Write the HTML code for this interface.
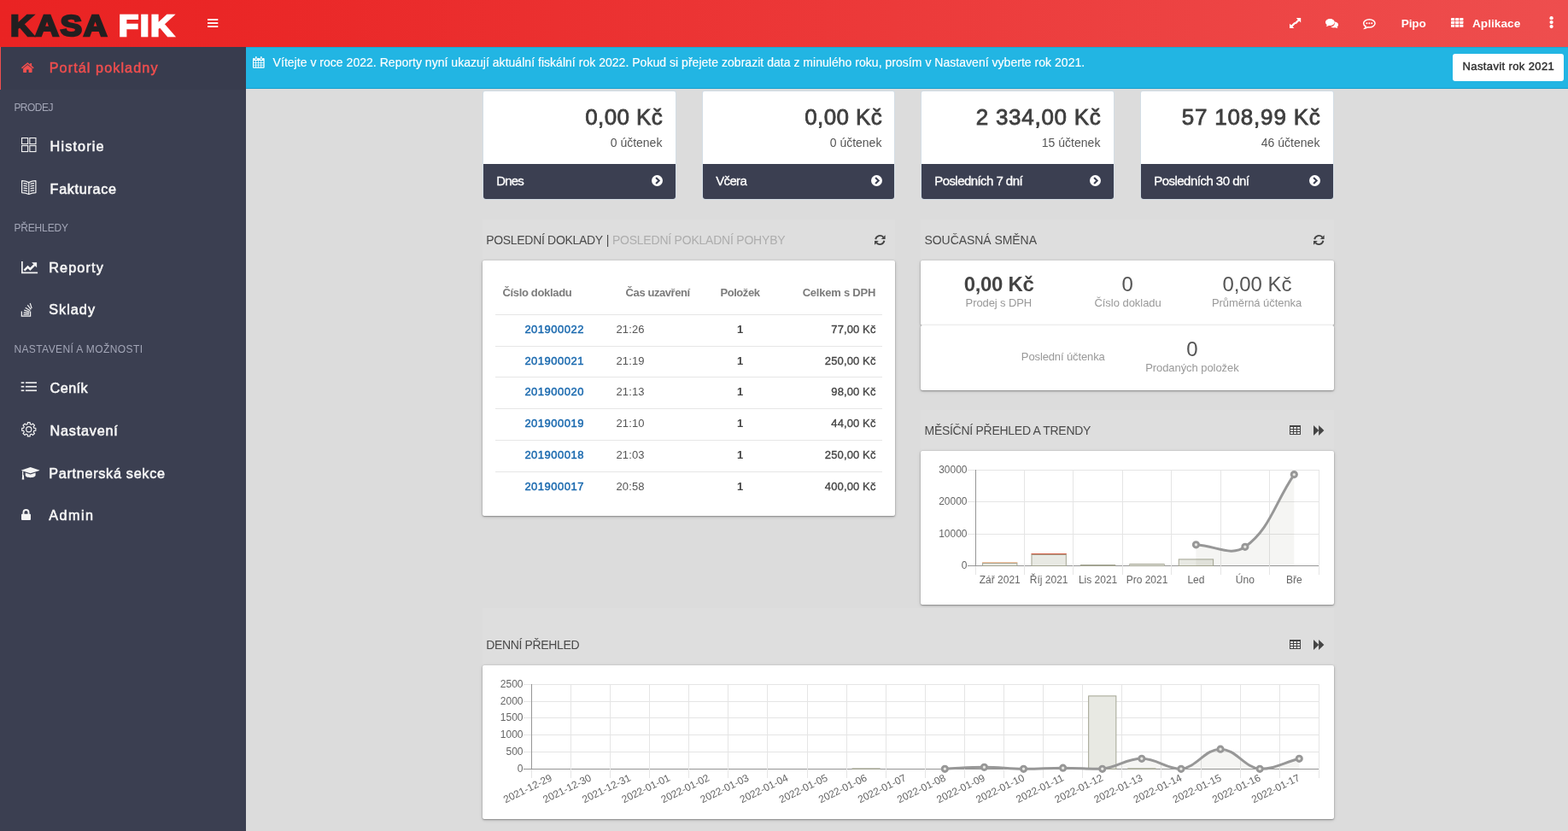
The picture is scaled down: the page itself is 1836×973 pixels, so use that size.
<!DOCTYPE html>
<html lang="cs">
<head>
<meta charset="utf-8">
<title>KASA FIK – Portál pokladny</title>
<style>
html,body{margin:0;padding:0}
body{width:1836px;height:973px;overflow:hidden;background:#dcdcdc;font-family:"Liberation Sans",sans-serif;position:relative;color:#444}
.t{position:absolute;white-space:pre;line-height:1;margin:0;padding:0;font-weight:400}
a.t{text-decoration:none}
.abs,svg{position:absolute}
svg{overflow:visible}
header{position:absolute;left:0;top:0;width:1836px;height:55px;background:linear-gradient(90deg,#ea2323 0%,#ea2626 14%,#ee4e4e 100%)}
aside{position:absolute;left:0;top:55px;width:288px;height:918px;background:#3b3f51}
aside .active{position:absolute;left:0;top:0;width:288px;height:49.6px;background:#383c4e;box-sizing:border-box;border-left:1px solid #ef4e4e}
aside ul{list-style:none;margin:0;padding:0}
.notice{position:absolute;left:288px;top:55px;width:1548px;height:49px;box-sizing:border-box;background:#22b5e3;border-bottom:1px solid #169fce;box-shadow:inset 0 1px 0 rgba(0,40,70,.10)}
.notice button{position:absolute;left:1413px;top:8px;width:130px;height:32px;border:0;border-radius:3px;background:#fff;padding:0;margin:0;font-family:inherit}
main{position:absolute;left:0;top:0;width:1836px;height:973px}
.stat{position:absolute;top:107px;width:225px;height:126px;border-radius:2px 2px 3px 3px;background:#fff;box-shadow:0 0 0 1px #d3dde5}
.stat .foot{position:absolute;left:0;top:85px;width:225px;height:41px;background:#3b3f51;border-radius:0 0 3px 3px}
.panel{position:absolute;background:#dedede}
.card{position:absolute;background:#fff;border-radius:2px;box-shadow:0 1px 2px rgba(0,0,0,.32),0 1px 5px rgba(0,0,0,.10),0 0 2px rgba(0,0,0,.12)}
.hr{position:absolute;height:1px;background:#e6e6e6}
</style>
</head>
<body>
<header>
<h1 class="t" style="left:0;top:0;font-size:0"><span class="t" style="left:11.90px;top:13.01px;font-size:34.6px;font-weight:700;color:#231f20;letter-spacing:1.4px;-webkit-text-stroke:2.4px #231f20;transform:scaleX(1.11);transform-origin:0 0">KASA</span><span class="t" style="left:138.60px;top:13.01px;font-size:34.6px;font-weight:700;color:#ffffff;letter-spacing:1.6px;-webkit-text-stroke:2.4px #ffffff;transform:scaleX(1.095);transform-origin:0 0">FIK</span></h1>
<svg class="ic" style="left:243.00px;top:22.00px" width="12.3" height="10.1" viewBox="0 0 12.3 10.1" aria-hidden="true"><rect x="0" y="0.1" width="12.3" height="1.8" fill="#fff"/><rect x="0" y="4.15" width="12.3" height="1.8" fill="#fff"/><rect x="0" y="8.2" width="12.3" height="1.8" fill="#fff"/></svg><svg class="ic" style="left:1510.20px;top:21.30px" width="13.2" height="12.1" viewBox="0 0 13.2 12.1" aria-hidden="true"><polygon fill="#fff" points="7.80,0.00 13.20,0.00 13.20,5.40 11.30,3.50 7.60,7.20 6.00,5.60 9.70,1.90"/><polygon fill="#fff" points="5.40,12.10 0.00,12.10 0.00,6.70 1.90,8.60 5.60,4.90 7.20,6.50 3.50,10.20"/></svg><svg class="ic" style="left:1552.20px;top:22.00px" width="15.1" height="11" viewBox="0 0 15.1 11" aria-hidden="true"><path fill="#fff" d="M10.2 3.2 C13 3.4 15.1 5 15.1 6.9 C15.1 8 14.4 8.9 13.4 9.6 C13.6 10.2 14.1 10.8 14.6 11 C13.3 11 12.2 10.7 11.4 10.3 C10.9 10.4 10.4 10.45 9.9 10.45 C8.4 10.45 7.1 10.05 6.1 9.4 C8.9 9 11 7.2 11 4.9 C11 4.3 10.7 3.7 10.2 3.2Z"/><path fill="#fff" d="M5.4 0 C8.4 0 10.8 1.8 10.8 4.05 C10.8 6.3 8.4 8.1 5.4 8.1 C4.9 8.1 4.4 8.05 3.9 7.95 C3 8.6 1.8 9 0.5 9.1 C1.1 8.6 1.6 7.9 1.8 7.2 C0.7 6.5 0 5.3 0 4.05 C0 1.8 2.4 0 5.4 0Z"/></svg><svg class="ic" style="left:1596.00px;top:22.00px" width="14.7" height="11.9" viewBox="0 0 14.7 11.9" aria-hidden="true"><path fill="none" stroke="#fff" stroke-width="1.5" d="M7.35 0.65 C11.1 0.65 14.05 2.75 14.05 5.3 C14.05 7.85 11.1 9.95 7.35 9.95 C6.7 9.95 6.1 9.9 5.5 9.75 C4.6 10.5 3.4 11 2.1 11.2 C2.7 10.6 3.1 9.8 3.2 9 C1.6 8.1 0.65 6.8 0.65 5.3 C0.65 2.75 3.6 0.65 7.35 0.65Z"/><circle cx="4.4" cy="5.3" r="1.05" fill="#fff"/><circle cx="7.35" cy="5.3" r="1.05" fill="#fff"/><circle cx="10.3" cy="5.3" r="1.05" fill="#fff"/></svg><span class="t" style="left:1640.80px;top:20.90px;font-size:13.6px;color:#fff;font-weight:700;letter-spacing:-0.151px;">Pipo</span><svg class="ic" style="left:1699.40px;top:21.00px" width="14.5" height="10.9" viewBox="0 0 14.5 10.9" aria-hidden="true"><rect x="0.00" y="0.00" width="4.2" height="3.1" rx="0.4" fill="#fff"/><rect x="5.10" y="0.00" width="4.2" height="3.1" rx="0.4" fill="#fff"/><rect x="10.20" y="0.00" width="4.2" height="3.1" rx="0.4" fill="#fff"/><rect x="0.00" y="3.85" width="4.2" height="3.1" rx="0.4" fill="#fff"/><rect x="5.10" y="3.85" width="4.2" height="3.1" rx="0.4" fill="#fff"/><rect x="10.20" y="3.85" width="4.2" height="3.1" rx="0.4" fill="#fff"/><rect x="0.00" y="7.70" width="4.2" height="3.1" rx="0.4" fill="#fff"/><rect x="5.10" y="7.70" width="4.2" height="3.1" rx="0.4" fill="#fff"/><rect x="10.20" y="7.70" width="4.2" height="3.1" rx="0.4" fill="#fff"/></svg><span class="t" style="left:1723.90px;top:20.90px;font-size:13.6px;color:#fff;font-weight:700;letter-spacing:0.068px;">Aplikace</span><svg class="ic" style="left:1814.30px;top:19.00px" width="5.2" height="14.2" viewBox="0 0 5.2 14.2" aria-hidden="true"><circle cx="2.6" cy="2.15" r="2.15" fill="#fff"/><circle cx="2.6" cy="7.1" r="2.15" fill="#fff"/><circle cx="2.6" cy="12.05" r="2.15" fill="#fff"/></svg></header>
<aside>
<nav>
<div class="active"></div>
<svg class="ic" style="left:25.30px;top:18.40px" width="14.7" height="12" viewBox="0 0 14.7 12" aria-hidden="true"><path fill="#ef4e4e" d="M7.35 2.9 L2.1 7.2 V11.3 Q2.1 11.9 2.7 11.9 H6.1 V8.4 H8.6 V11.9 H12 Q12.6 11.9 12.6 11.3 V7.2 Z"/><path fill="#ef4e4e" d="M7.35 0.2 Q7.6 0.2 7.9 0.45 L10.3 2.45 V0.95 H12.1 V3.95 L14.5 5.95 Q14.8 6.2 14.55 6.5 L14 7.15 Q13.8 7.4 13.5 7.2 L7.35 2.05 L1.2 7.2 Q0.9 7.4 0.7 7.15 L0.15 6.5 Q-0.1 6.2 0.2 5.95 L6.8 0.45 Q7.1 0.2 7.35 0.2Z"/></svg><a class="t" style="left:57.70px;top:15.90px;font-size:16.2px;color:#ef4e4e;letter-spacing:1.086px;-webkit-text-stroke:0.5px #ef4e4e;">Portál pokladny</a><span class="t" style="left:16.40px;top:65.00px;font-size:12px;color:#a3a6b7;letter-spacing:-0.537px;">PRODEJ</span>
<svg class="ic" style="left:24.80px;top:106.10px" width="17.5" height="17.1" viewBox="0 0 17.5 17.1" aria-hidden="true"><rect x="0.55" y="0.55" width="7.10" height="7.00" fill="none" stroke="#f4f4f4" stroke-width="1.1"/><rect x="0.55" y="9.55" width="7.10" height="7.00" fill="none" stroke="#f4f4f4" stroke-width="1.1"/><rect x="9.85" y="0.55" width="7.10" height="7.00" fill="none" stroke="#f4f4f4" stroke-width="1.1"/><rect x="9.85" y="9.55" width="7.10" height="7.00" fill="none" stroke="#f4f4f4" stroke-width="1.1"/></svg><a class="t" style="left:58.60px;top:107.90px;font-size:16.2px;color:#f6f6f6;letter-spacing:1.146px;-webkit-text-stroke:0.55px #f6f6f6;">Historie</a>
<svg class="ic" style="left:24.80px;top:156.00px" width="17.5" height="17.2" viewBox="0 0 17.5 17.2" aria-hidden="true"><path fill="none" stroke="#f4f4f4" stroke-width="1.2" stroke-linejoin="round" d="M0.6 0.7 Q5 0.9 8.75 2.6 Q12.5 0.9 16.9 0.7 V14.6 Q12.5 14.8 8.75 16.5 Q5 14.8 0.6 14.6 Z"/><path fill="none" stroke="#f4f4f4" stroke-width="1.2" stroke-linejoin="round" d="M8.75 2.6 V16.5"/><path fill="none" stroke="#f4f4f4" stroke-width="1.2" stroke-linejoin="round" stroke-width="1.05" d="M2.5 3.60 Q5 3.80 7 4.50"/><path fill="none" stroke="#f4f4f4" stroke-width="1.2" stroke-linejoin="round" stroke-width="1.05" d="M15 3.60 Q12.5 3.80 10.5 4.50"/><path fill="none" stroke="#f4f4f4" stroke-width="1.2" stroke-linejoin="round" stroke-width="1.05" d="M2.5 6.35 Q5 6.55 7 7.25"/><path fill="none" stroke="#f4f4f4" stroke-width="1.2" stroke-linejoin="round" stroke-width="1.05" d="M15 6.35 Q12.5 6.55 10.5 7.25"/><path fill="none" stroke="#f4f4f4" stroke-width="1.2" stroke-linejoin="round" stroke-width="1.05" d="M2.5 9.10 Q5 9.30 7 10.00"/><path fill="none" stroke="#f4f4f4" stroke-width="1.2" stroke-linejoin="round" stroke-width="1.05" d="M15 9.10 Q12.5 9.30 10.5 10.00"/><path fill="none" stroke="#f4f4f4" stroke-width="1.2" stroke-linejoin="round" stroke-width="1.05" d="M2.5 11.85 Q5 12.05 7 12.75"/><path fill="none" stroke="#f4f4f4" stroke-width="1.2" stroke-linejoin="round" stroke-width="1.05" d="M15 11.85 Q12.5 12.05 10.5 12.75"/></svg><a class="t" style="left:58.60px;top:157.90px;font-size:16.2px;color:#f6f6f6;letter-spacing:0.677px;-webkit-text-stroke:0.55px #f6f6f6;">Fakturace</a>
<span class="t" style="left:16.40px;top:206.00px;font-size:12px;color:#a3a6b7;letter-spacing:-0.155px;">PŘEHLEDY</span>
<svg class="ic" style="left:24.80px;top:251.30px" width="19.1" height="14.3" viewBox="0 0 19.1 14.3" aria-hidden="true"><path fill="#f4f4f4" d="M0 0 H1.7 V12.6 H19.1 V14.3 H0 Z"/><path fill="none" stroke="#f4f4f4" stroke-width="2.5" stroke-linejoin="miter" d="M3.4 10.6 L7.6 6.6 L10.3 9.2 L15.4 4.1"/><path fill="#f4f4f4" d="M12.1 1.3 H18.1 V7.3 Z"/></svg><a class="t" style="left:57.20px;top:249.90px;font-size:16.2px;color:#f6f6f6;letter-spacing:1.152px;-webkit-text-stroke:0.55px #f6f6f6;">Reporty</a>
<svg class="ic" style="left:24.80px;top:299.00px" width="13.1" height="16.8" viewBox="0 0 13.1 16.8" aria-hidden="true"><path fill="none" stroke="#f4f4f4" stroke-width="1.25" d="M0.35 10.6 V16.15 H10.6 V10.6"/><rect x="-3.30" y="-0.6" width="6.6" height="1.2" fill="#f4f4f4" transform="translate(5.8 14.2) rotate(0)"/><rect x="-3.30" y="-0.6" width="6.6" height="1.2" fill="#f4f4f4" transform="translate(5.9 12.2) rotate(6)"/><rect x="-3.30" y="-0.6" width="6.6" height="1.2" fill="#f4f4f4" transform="translate(6.4 10.1) rotate(18)"/><rect x="-3.30" y="-0.6" width="6.6" height="1.2" fill="#f4f4f4" transform="translate(7.5 8.0) rotate(33)"/><rect x="-3.30" y="-0.6" width="6.6" height="1.2" fill="#f4f4f4" transform="translate(9.3 5.8) rotate(52)"/><rect x="-3.10" y="-0.6" width="6.2" height="1.2" fill="#f4f4f4" transform="translate(11.2 4.0) rotate(72)"/></svg><a class="t" style="left:57.20px;top:298.90px;font-size:16.2px;color:#f6f6f6;letter-spacing:1.041px;-webkit-text-stroke:0.55px #f6f6f6;">Sklady</a>
<span class="t" style="left:16.40px;top:348.00px;font-size:12px;color:#a3a6b7;letter-spacing:0.404px;">NASTAVENÍ A MOŽNOSTI</span>
<svg class="ic" style="left:24.80px;top:391.90px" width="17.5" height="11.8" viewBox="0 0 17.5 11.8" aria-hidden="true"><rect x="-0.3" y="0.3" width="3.6" height="1.6" fill="#f4f4f4"/><rect x="4.9" y="0.3" width="13.1" height="1.6" fill="#f4f4f4"/><rect x="-0.3" y="4.9" width="3.6" height="1.6" fill="#f4f4f4"/><rect x="4.9" y="4.9" width="13.1" height="1.6" fill="#f4f4f4"/><rect x="-0.3" y="9.5" width="3.6" height="1.6" fill="#f4f4f4"/><rect x="4.9" y="9.5" width="13.1" height="1.6" fill="#f4f4f4"/></svg><a class="t" style="left:58.60px;top:390.90px;font-size:16.2px;color:#f6f6f6;letter-spacing:0.426px;-webkit-text-stroke:0.55px #f6f6f6;">Ceník</a>
<svg class="ic" style="left:24.80px;top:438.80px" width="17.5" height="17.5" viewBox="0 0 17.5 17.5" aria-hidden="true"><path fill="none" stroke="#f4f4f4" stroke-width="1.15" stroke-linejoin="round" d="M7.19 2.65 L7.36 0.67 L10.14 0.67 L10.31 2.65 L11.96 3.33 L13.48 2.05 L15.45 4.02 L14.17 5.54 L14.85 7.19 L16.83 7.36 L16.83 10.14 L14.85 10.31 L14.17 11.96 L15.45 13.48 L13.48 15.45 L11.96 14.17 L10.31 14.85 L10.14 16.83 L7.36 16.83 L7.19 14.85 L5.54 14.17 L4.02 15.45 L2.05 13.48 L3.33 11.96 L2.65 10.31 L0.67 10.14 L0.67 7.36 L2.65 7.19 L3.33 5.54 L2.05 4.02 L4.02 2.05 L5.54 3.33Z"/><circle cx="8.75" cy="8.75" r="3.1" fill="none" stroke="#f4f4f4" stroke-width="1.15"/></svg><a class="t" style="left:58.60px;top:440.90px;font-size:16.2px;color:#f6f6f6;letter-spacing:0.789px;-webkit-text-stroke:0.55px #f6f6f6;">Nastavení</a>
<svg class="ic" style="left:24.80px;top:491.90px" width="21.3" height="15" viewBox="0 0 21.3 15" aria-hidden="true"><path fill="#f4f4f4" d="M10.65 0.1 L21.1 3.5 Q21.4 3.7 21.1 3.9 L10.65 7.3 L0.2 3.9 Q-0.1 3.7 0.2 3.5 Z"/><path fill="#f4f4f4" d="M4.7 6.4 L10.65 8.4 L16.6 6.4 V9.6 C16.6 11.3 13.8 12.2 10.65 12.2 C7.5 12.2 4.7 11.3 4.7 9.6 Z"/><path fill="#f4f4f4" d="M1.1 4.6 L2.3 5 V9 Q3 9.4 2.9 10 L3.3 14.6 H0.7 L1.1 10 Q0.5 9.4 1.1 9 Z"/></svg><a class="t" style="left:57.20px;top:490.90px;font-size:16.2px;color:#f6f6f6;letter-spacing:0.716px;-webkit-text-stroke:0.55px #f6f6f6;">Partnerská sekce</a>
<svg class="ic" style="left:24.80px;top:541.10px" width="11" height="13.1" viewBox="0 0 11 13.1" aria-hidden="true"><rect x="0" y="5.7" width="11" height="7.4" rx="1" fill="#f4f4f4"/><path fill="none" stroke="#f4f4f4" stroke-width="1.9" d="M2.5 6.2 V4.0 A3 3 0 0 1 8.5 4.0 V6.2"/></svg><a class="t" style="left:57.20px;top:539.90px;font-size:16.2px;color:#f6f6f6;letter-spacing:1.477px;-webkit-text-stroke:0.55px #f6f6f6;">Admin</a>
</nav>
</aside>
<div class="notice">
<svg class="ic" style="left:7.90px;top:11.40px" width="13.7" height="13.8" viewBox="0 0 13.7 13.8" aria-hidden="true"><path fill="#fff" d="M1 1.9 H12.7 Q13.7 1.9 13.7 2.9 V12.8 Q13.7 13.8 12.7 13.8 H1 Q0 13.8 0 12.8 V2.9 Q0 1.9 1 1.9Z"/><rect x="1.00" y="5.00" width="2.25" height="2.0" fill="#22b5e3"/><rect x="4.05" y="5.00" width="2.25" height="2.0" fill="#22b5e3"/><rect x="7.10" y="5.00" width="2.25" height="2.0" fill="#22b5e3"/><rect x="10.15" y="5.00" width="2.25" height="2.0" fill="#22b5e3"/><rect x="1.00" y="7.75" width="2.25" height="2.0" fill="#22b5e3"/><rect x="4.05" y="7.75" width="2.25" height="2.0" fill="#22b5e3"/><rect x="7.10" y="7.75" width="2.25" height="2.0" fill="#22b5e3"/><rect x="10.15" y="7.75" width="2.25" height="2.0" fill="#22b5e3"/><rect x="1.00" y="10.50" width="2.25" height="2.0" fill="#22b5e3"/><rect x="4.05" y="10.50" width="2.25" height="2.0" fill="#22b5e3"/><rect x="7.10" y="10.50" width="2.25" height="2.0" fill="#22b5e3"/><rect x="10.15" y="10.50" width="2.25" height="2.0" fill="#22b5e3"/><rect x="2.55" y="-0.5" width="2.6" height="4.6" rx="1.2" fill="#22b5e3"/><rect x="3.10" y="0" width="1.5" height="3.5" rx="0.75" fill="#fff"/><rect x="8.55" y="-0.5" width="2.6" height="4.6" rx="1.2" fill="#22b5e3"/><rect x="9.10" y="0" width="1.5" height="3.5" rx="0.75" fill="#fff"/></svg><p class="t" style="left:31.60px;top:11.30px;font-size:14px;color:#fff;letter-spacing:0.028px;-webkit-text-stroke:0.15px #fff;">Vítejte v roce 2022. Reporty nyní ukazují aktuální fiskální rok 2022. Pokud si přejete zobrazit data z minulého roku, prosím v Nastavení vyberte rok 2021.</p><button type="button"><span class="t" style="left:11.60px;top:8.00px;font-size:13px;color:#2c2c2c;letter-spacing:0.377px;-webkit-text-stroke:0.4px #2c2c2c;">Nastavit rok 2021</span></button>
</div>
<main>
<section class="stat" style="left:566px"><h2 class="t" style="left:119.20px;top:16.50px;font-size:26px;color:#3f3f3f;letter-spacing:0.405px;-webkit-text-stroke:0.8px #3f3f3f;">0,00 Kč</h2><span class="t" style="left:148.80px;top:53.00px;font-size:14px;color:#555;letter-spacing:-0.015px;">0 účtenek</span><div class="foot"><span class="t" style="left:15.20px;top:12.00px;font-size:15px;color:#fff;letter-spacing:-0.810px;-webkit-text-stroke:0.3px #fff;">Dnes</span><svg class="ic" style="left:197.30px;top:13.20px" width="13" height="13" viewBox="0 0 13 13" aria-hidden="true"><circle cx="6.5" cy="6.5" r="6.5" fill="#fff"/><path fill="none" stroke="#3b3f51" stroke-width="2.1" stroke-linejoin="miter" d="M5.1 2.9 L8.7 6.5 L5.1 10.1"/></svg></div></section>
<section class="stat" style="left:823px;width:224px"><h2 class="t" style="left:119.20px;top:16.50px;font-size:26px;color:#3f3f3f;letter-spacing:0.405px;-webkit-text-stroke:0.8px #3f3f3f;">0,00 Kč</h2><span class="t" style="left:148.80px;top:53.00px;font-size:14px;color:#555;letter-spacing:-0.015px;">0 účtenek</span><div class="foot" style="width:224px"><span class="t" style="left:15.20px;top:12.00px;font-size:15px;color:#fff;letter-spacing:-0.647px;-webkit-text-stroke:0.3px #fff;">Včera</span><svg class="ic" style="left:197.30px;top:13.20px" width="13" height="13" viewBox="0 0 13 13" aria-hidden="true"><circle cx="6.5" cy="6.5" r="6.5" fill="#fff"/><path fill="none" stroke="#3b3f51" stroke-width="2.1" stroke-linejoin="miter" d="M5.1 2.9 L8.7 6.5 L5.1 10.1"/></svg></div></section>
<section class="stat" style="left:1079px"><h2 class="t" style="left:63.80px;top:16.50px;font-size:26px;color:#3f3f3f;letter-spacing:0.722px;-webkit-text-stroke:0.8px #3f3f3f;">2 334,00 Kč</h2><span class="t" style="left:140.80px;top:53.00px;font-size:14px;color:#555;letter-spacing:0.011px;">15 účtenek</span><div class="foot"><span class="t" style="left:15.20px;top:12.00px;font-size:15px;color:#fff;letter-spacing:-0.557px;-webkit-text-stroke:0.3px #fff;">Posledních 7 dní</span><svg class="ic" style="left:197.30px;top:13.20px" width="13" height="13" viewBox="0 0 13 13" aria-hidden="true"><circle cx="6.5" cy="6.5" r="6.5" fill="#fff"/><path fill="none" stroke="#3b3f51" stroke-width="2.1" stroke-linejoin="miter" d="M5.1 2.9 L8.7 6.5 L5.1 10.1"/></svg></div></section>
<section class="stat" style="left:1336px"><h2 class="t" style="left:47.80px;top:16.50px;font-size:26px;color:#3f3f3f;letter-spacing:0.797px;-webkit-text-stroke:0.8px #3f3f3f;">57 108,99 Kč</h2><span class="t" style="left:140.80px;top:53.00px;font-size:14px;color:#555;letter-spacing:0.011px;">46 účtenek</span><div class="foot"><span class="t" style="left:15.20px;top:12.00px;font-size:15px;color:#fff;letter-spacing:-0.518px;-webkit-text-stroke:0.3px #fff;">Posledních 30 dní</span><svg class="ic" style="left:197.30px;top:13.20px" width="13" height="13" viewBox="0 0 13 13" aria-hidden="true"><circle cx="6.5" cy="6.5" r="6.5" fill="#fff"/><path fill="none" stroke="#3b3f51" stroke-width="2.1" stroke-linejoin="miter" d="M5.1 2.9 L8.7 6.5 L5.1 10.1"/></svg></div></section>
<section class="panel" style="left:565px;top:257px;width:483px;height:347px">
<h3 class="t" style="left:4.20px;top:17.00px;font-size:14px;color:#4a4a4a;letter-spacing:-0.307px;">POSLEDNÍ DOKLADY</h3><span class="t" style="left:144.80px;top:17.00px;font-size:14px;color:#4a4a4a;">|</span><span class="t" style="left:151.90px;top:17.00px;font-size:14px;color:#adadad;letter-spacing:-0.219px;">POSLEDNÍ POKLADNÍ POHYBY</span><svg class="ic" style="left:459.30px;top:18.00px" width="12.6" height="12" viewBox="0 0 12.6 12" aria-hidden="true"><path fill="none" stroke="#444" stroke-width="1.9" d="M1.2 5.2 A5.3 5.3 0 0 1 10.3 2.6"/><path fill="#444" d="M12.6 0.3 V5.1 H7.8 Z"/><path fill="none" stroke="#444" stroke-width="1.9" d="M11.4 6.8 A5.3 5.3 0 0 1 2.3 9.4"/><path fill="#444" d="M0 11.7 V6.9 H4.8 Z"/></svg><div class="card" style="left:0;top:48px;width:483px;height:299px">
<span class="t" style="left:23.40px;top:30.90px;font-size:13px;color:#7b7b7b;font-weight:700;letter-spacing:-0.320px;">Číslo dokladu</span><span class="t" style="left:167.60px;top:30.90px;font-size:13px;color:#7b7b7b;font-weight:700;letter-spacing:-0.418px;">Čas uzavření</span><span class="t" style="left:278.50px;top:30.90px;font-size:13px;color:#7b7b7b;font-weight:700;letter-spacing:-0.454px;">Položek</span><span class="t" style="left:374.70px;top:30.90px;font-size:13px;color:#7b7b7b;font-weight:700;letter-spacing:-0.232px;">Celkem s DPH</span>
<div class="hr" style="left:15px;top:63px;width:453px"></div><a class="t" style="left:49.40px;top:74.00px;font-size:13px;color:#1868ae;letter-spacing:0.490px;-webkit-text-stroke:0.45px #1868ae;">201900022</a><span class="t" style="left:156.50px;top:74.00px;font-size:13px;color:#555;letter-spacing:0.113px;">21:26</span><span class="t" style="left:298.08px;top:74.00px;font-size:13px;color:#444;font-weight:700;">1</span><span class="t" style="left:408.30px;top:74.00px;font-size:13px;color:#444;letter-spacing:0.110px;-webkit-text-stroke:0.35px #444;">77,00 Kč</span>
<div class="hr" style="left:15px;top:100px;width:453px"></div><a class="t" style="left:49.40px;top:111.00px;font-size:13px;color:#1868ae;letter-spacing:0.490px;-webkit-text-stroke:0.45px #1868ae;">201900021</a><span class="t" style="left:156.50px;top:111.00px;font-size:13px;color:#555;letter-spacing:0.113px;">21:19</span><span class="t" style="left:298.08px;top:111.00px;font-size:13px;color:#444;font-weight:700;">1</span><span class="t" style="left:400.80px;top:111.00px;font-size:13px;color:#444;letter-spacing:0.132px;-webkit-text-stroke:0.35px #444;">250,00 Kč</span>
<div class="hr" style="left:15px;top:136px;width:453px"></div><a class="t" style="left:49.40px;top:147.00px;font-size:13px;color:#1868ae;letter-spacing:0.490px;-webkit-text-stroke:0.45px #1868ae;">201900020</a><span class="t" style="left:156.50px;top:147.00px;font-size:13px;color:#555;letter-spacing:0.113px;">21:13</span><span class="t" style="left:298.08px;top:147.00px;font-size:13px;color:#444;font-weight:700;">1</span><span class="t" style="left:408.30px;top:147.00px;font-size:13px;color:#444;letter-spacing:0.110px;-webkit-text-stroke:0.35px #444;">98,00 Kč</span>
<div class="hr" style="left:15px;top:173px;width:453px"></div><a class="t" style="left:49.40px;top:184.00px;font-size:13px;color:#1868ae;letter-spacing:0.490px;-webkit-text-stroke:0.45px #1868ae;">201900019</a><span class="t" style="left:156.50px;top:184.00px;font-size:13px;color:#555;letter-spacing:0.113px;">21:10</span><span class="t" style="left:298.08px;top:184.00px;font-size:13px;color:#444;font-weight:700;">1</span><span class="t" style="left:408.30px;top:184.00px;font-size:13px;color:#444;letter-spacing:0.110px;-webkit-text-stroke:0.35px #444;">44,00 Kč</span>
<div class="hr" style="left:15px;top:210px;width:453px"></div><a class="t" style="left:49.40px;top:221.00px;font-size:13px;color:#1868ae;letter-spacing:0.490px;-webkit-text-stroke:0.45px #1868ae;">201900018</a><span class="t" style="left:156.50px;top:221.00px;font-size:13px;color:#555;letter-spacing:0.113px;">21:03</span><span class="t" style="left:298.08px;top:221.00px;font-size:13px;color:#444;font-weight:700;">1</span><span class="t" style="left:400.80px;top:221.00px;font-size:13px;color:#444;letter-spacing:0.132px;-webkit-text-stroke:0.35px #444;">250,00 Kč</span>
<div class="hr" style="left:15px;top:247px;width:453px"></div><a class="t" style="left:49.40px;top:258.00px;font-size:13px;color:#1868ae;letter-spacing:0.490px;-webkit-text-stroke:0.45px #1868ae;">201900017</a><span class="t" style="left:156.50px;top:258.00px;font-size:13px;color:#555;letter-spacing:0.113px;">20:58</span><span class="t" style="left:298.08px;top:258.00px;font-size:13px;color:#444;font-weight:700;">1</span><span class="t" style="left:400.80px;top:258.00px;font-size:13px;color:#444;letter-spacing:0.132px;-webkit-text-stroke:0.35px #444;">400,00 Kč</span>
</div>
</section>
<section class="panel" style="left:1078px;top:257px;width:484px;height:200px">
<h3 class="t" style="left:4.50px;top:17.00px;font-size:14px;color:#4a4a4a;letter-spacing:-0.058px;">SOUČASNÁ SMĚNA</h3><svg class="ic" style="left:459.90px;top:18.00px" width="12.6" height="12" viewBox="0 0 12.6 12" aria-hidden="true"><path fill="none" stroke="#444" stroke-width="1.9" d="M1.2 5.2 A5.3 5.3 0 0 1 10.3 2.6"/><path fill="#444" d="M12.6 0.3 V5.1 H7.8 Z"/><path fill="none" stroke="#444" stroke-width="1.9" d="M11.4 6.8 A5.3 5.3 0 0 1 2.3 9.4"/><path fill="#444" d="M0 11.7 V6.9 H4.8 Z"/></svg><div class="card" style="left:0;top:48px;width:484px;height:75.5px"><span class="t" style="left:50.65px;top:15.70px;font-size:24px;color:#444;font-weight:700;letter-spacing:-0.294px;">0,00 Kč</span><span class="t" style="left:52.60px;top:43.20px;font-size:13px;color:#999;letter-spacing:-0.105px;">Prodej s DPH</span><span class="t" style="left:235.52px;top:15.70px;font-size:24px;color:#555;">0</span><span class="t" style="left:203.40px;top:43.20px;font-size:13px;color:#999;letter-spacing:-0.032px;">Číslo dokladu</span><span class="t" style="left:353.40px;top:15.70px;font-size:24px;color:#555;letter-spacing:-0.065px;">0,00 Kč</span><span class="t" style="left:340.95px;top:43.20px;font-size:13px;color:#999;letter-spacing:-0.062px;">Průměrná účtenka</span></div>
<div class="card" style="left:0;top:124px;width:484px;height:76px"><span class="t" style="left:117.85px;top:30.20px;font-size:13px;color:#999;letter-spacing:-0.122px;">Poslední účtenka</span><span class="t" style="left:311.32px;top:15.70px;font-size:24px;color:#555;">0</span><span class="t" style="left:263.15px;top:43.00px;font-size:13px;color:#999;letter-spacing:-0.067px;">Prodaných položek</span></div>
</section>
<section class="panel" style="left:1078px;top:480px;width:484px;height:228px">
<h3 class="t" style="left:4.50px;top:17.00px;font-size:14px;color:#4a4a4a;letter-spacing:-0.276px;">MĚSÍČNÍ PŘEHLED A TRENDY</h3><svg class="ic" style="left:432.00px;top:18.00px" width="13" height="11" viewBox="0 0 13 11" aria-hidden="true" shape-rendering="crispEdges"><rect x="0" y="0" width="13" height="11" rx="1" fill="#444"/><rect x="1" y="2" width="3" height="2" fill="#e2e2e2"/><rect x="5" y="2" width="3" height="2" fill="#e2e2e2"/><rect x="9" y="2" width="3" height="2" fill="#e2e2e2"/><rect x="1" y="5" width="3" height="2" fill="#e2e2e2"/><rect x="5" y="5" width="3" height="2" fill="#e2e2e2"/><rect x="9" y="5" width="3" height="2" fill="#e2e2e2"/><rect x="1" y="8" width="3" height="2" fill="#e2e2e2"/><rect x="5" y="8" width="3" height="2" fill="#e2e2e2"/><rect x="9" y="8" width="3" height="2" fill="#e2e2e2"/></svg><svg class="ic" style="left:459.80px;top:17.90px" width="12.4" height="12" viewBox="0 0 12.4 12" aria-hidden="true"><path fill="#444" d="M0 0 L6.3 6 L0 12 Z"/><path fill="#444" d="M6.1 0 L12.4 6 L6.1 12 Z"/></svg><div class="card" style="left:0;top:48px;width:484px;height:180px">
<svg class="chart" style="left:0;top:0" width="484" height="180" viewBox="1078 528 484 180" role="img" font-family="'Liberation Sans', sans-serif" font-size="12" fill="#666">
<g shape-rendering="crispEdges" stroke="#e5e5e5" stroke-width="1"><line x1="1133" y1="550.5" x2="1545" y2="550.5" stroke="#e5e5e5"/><line x1="1133" y1="587.5" x2="1545" y2="587.5" stroke="#e5e5e5"/><line x1="1133" y1="625.5" x2="1545" y2="625.5" stroke="#e5e5e5"/><line x1="1133" y1="662.5" x2="1545" y2="662.5" stroke="#959595"/><line x1="1142.5" y1="550" x2="1142.5" y2="663" stroke="#959595"/><line x1="1142.5" y1="663" x2="1142.5" y2="673"/><line x1="1199.5" y1="550" x2="1199.5" y2="673"/><line x1="1256.5" y1="550" x2="1256.5" y2="673"/><line x1="1314.5" y1="550" x2="1314.5" y2="673"/><line x1="1371.5" y1="550" x2="1371.5" y2="673"/><line x1="1429.5" y1="550" x2="1429.5" y2="673"/><line x1="1486.5" y1="550" x2="1486.5" y2="673"/><line x1="1544.5" y1="550" x2="1544.5" y2="673"/></g>
<text x="1132.50" y="554.40" text-anchor="end">30000</text>
<text x="1132.50" y="591.40" text-anchor="end">20000</text>
<text x="1132.50" y="629.40" text-anchor="end">10000</text>
<text x="1132.50" y="666.40" text-anchor="end">0</text>
<rect x="1150.55" y="659.50" width="40.35" height="3.00" fill="#e8e9e3" stroke="#a3a492" stroke-width="1"/>
<rect x="1207.98" y="649.50" width="40.35" height="13.00" fill="#e8e9e3" stroke="#a3a492" stroke-width="1"/>
<rect x="1265.41" y="661.50" width="40.35" height="1.00" fill="#e8e9e3" stroke="#a3a492" stroke-width="1"/>
<rect x="1322.84" y="660.50" width="40.35" height="2.00" fill="#e8e9e3" stroke="#a3a492" stroke-width="1"/>
<rect x="1380.26" y="654.90" width="40.35" height="7.60" fill="#e8e9e3" stroke="#a3a492" stroke-width="1"/>
<rect x="1150.05" y="658.00" width="41.35" height="1.1" fill="#f5c3a0"/>
<rect x="1207.48" y="648.00" width="41.35" height="1.1" fill="#cf5f45"/>
<path d="M1400.44 637.80 C1423.41 638.80 1441.34 652.13 1457.87 640.30 C1487.29 619.25 1492.32 589.48 1515.30 555.60 L1515.30 662.50 L1400.44 662.50 Z" fill="#8c8c78" fill-opacity="0.09"/>
<path d="M1400.44 637.80 C1423.41 638.80 1441.34 652.13 1457.87 640.30 C1487.29 619.25 1492.32 589.48 1515.30 555.60" fill="none" stroke="#979797" stroke-width="3" stroke-linecap="butt" stroke-linejoin="round"/>
<circle cx="1400.44" cy="637.80" r="3.15" fill="#e6e6e2" stroke="#979797" stroke-width="2.9"/>
<circle cx="1457.87" cy="640.30" r="3.15" fill="#e6e6e2" stroke="#979797" stroke-width="2.9"/>
<circle cx="1515.30" cy="555.60" r="3.15" fill="#e6e6e2" stroke="#979797" stroke-width="2.9"/>
<text x="1170.72" y="682.90" text-anchor="middle">Zář 2021</text>
<text x="1228.15" y="682.90" text-anchor="middle">Říj 2021</text>
<text x="1285.58" y="682.90" text-anchor="middle">Lis 2021</text>
<text x="1343.01" y="682.90" text-anchor="middle">Pro 2021</text>
<text x="1400.44" y="682.90" text-anchor="middle">Led</text>
<text x="1457.87" y="682.90" text-anchor="middle">Úno</text>
<text x="1515.30" y="682.90" text-anchor="middle">Bře</text>
</svg>
</div>
</section>
<section class="panel" style="left:565px;top:712px;width:997px;height:247px">
<h3 class="t" style="left:4.20px;top:36.00px;font-size:14px;color:#4a4a4a;letter-spacing:-0.349px;">DENNÍ PŘEHLED</h3><svg class="ic" style="left:945.00px;top:37.00px" width="13" height="11" viewBox="0 0 13 11" aria-hidden="true" shape-rendering="crispEdges"><rect x="0" y="0" width="13" height="11" rx="1" fill="#444"/><rect x="1" y="2" width="3" height="2" fill="#e2e2e2"/><rect x="5" y="2" width="3" height="2" fill="#e2e2e2"/><rect x="9" y="2" width="3" height="2" fill="#e2e2e2"/><rect x="1" y="5" width="3" height="2" fill="#e2e2e2"/><rect x="5" y="5" width="3" height="2" fill="#e2e2e2"/><rect x="9" y="5" width="3" height="2" fill="#e2e2e2"/><rect x="1" y="8" width="3" height="2" fill="#e2e2e2"/><rect x="5" y="8" width="3" height="2" fill="#e2e2e2"/><rect x="9" y="8" width="3" height="2" fill="#e2e2e2"/></svg><svg class="ic" style="left:972.80px;top:36.90px" width="12.4" height="12" viewBox="0 0 12.4 12" aria-hidden="true"><path fill="#444" d="M0 0 L6.3 6 L0 12 Z"/><path fill="#444" d="M6.1 0 L12.4 6 L6.1 12 Z"/></svg><div class="card" style="left:0;top:67px;width:997px;height:180px">
<svg class="chart" style="left:0;top:0" width="997" height="180" viewBox="565 779 997 180" role="img" font-family="'Liberation Sans', sans-serif" font-size="12" fill="#666">
<g shape-rendering="crispEdges" stroke="#e5e5e5" stroke-width="1"><line x1="613" y1="801.5" x2="1545" y2="801.5" stroke="#e5e5e5"/><line x1="613" y1="821.5" x2="1545" y2="821.5" stroke="#e5e5e5"/><line x1="613" y1="840.5" x2="1545" y2="840.5" stroke="#e5e5e5"/><line x1="613" y1="860.5" x2="1545" y2="860.5" stroke="#e5e5e5"/><line x1="613" y1="880.5" x2="1545" y2="880.5" stroke="#e5e5e5"/><line x1="613" y1="900.5" x2="1545" y2="900.5" stroke="#959595"/><line x1="622.5" y1="801" x2="622.5" y2="901" stroke="#959595"/><line x1="622.5" y1="901" x2="622.5" y2="911"/><line x1="668.5" y1="801" x2="668.5" y2="911"/><line x1="714.5" y1="801" x2="714.5" y2="911"/><line x1="760.5" y1="801" x2="760.5" y2="911"/><line x1="806.5" y1="801" x2="806.5" y2="911"/><line x1="852.5" y1="801" x2="852.5" y2="911"/><line x1="898.5" y1="801" x2="898.5" y2="911"/><line x1="945.5" y1="801" x2="945.5" y2="911"/><line x1="991.5" y1="801" x2="991.5" y2="911"/><line x1="1037.5" y1="801" x2="1037.5" y2="911"/><line x1="1083.5" y1="801" x2="1083.5" y2="911"/><line x1="1129.5" y1="801" x2="1129.5" y2="911"/><line x1="1175.5" y1="801" x2="1175.5" y2="911"/><line x1="1221.5" y1="801" x2="1221.5" y2="911"/><line x1="1267.5" y1="801" x2="1267.5" y2="911"/><line x1="1313.5" y1="801" x2="1313.5" y2="911"/><line x1="1359.5" y1="801" x2="1359.5" y2="911"/><line x1="1406.5" y1="801" x2="1406.5" y2="911"/><line x1="1452.5" y1="801" x2="1452.5" y2="911"/><line x1="1498.5" y1="801" x2="1498.5" y2="911"/><line x1="1544.5" y1="801" x2="1544.5" y2="911"/></g>
<text x="612.50" y="805.40" text-anchor="end">2500</text>
<text x="612.50" y="825.40" text-anchor="end">2000</text>
<text x="612.50" y="844.40" text-anchor="end">1500</text>
<text x="612.50" y="864.40" text-anchor="end">1000</text>
<text x="612.50" y="884.40" text-anchor="end">500</text>
<text x="612.50" y="904.40" text-anchor="end">0</text>
<rect x="998.05" y="899.90" width="32.19" height="0.60" fill="#e8e9e3" stroke="#a3a492" stroke-width="1"/>
<rect x="1274.65" y="814.90" width="32.19" height="85.60" fill="#e8e9e3" stroke="#a3a492" stroke-width="1"/>
<rect x="1320.75" y="899.90" width="32.19" height="0.60" fill="#e8e9e3" stroke="#a3a492" stroke-width="1"/>
<path d="M1106.35 900.30 C1124.79 899.50 1134.01 898.30 1152.45 898.30 C1170.89 898.30 1180.10 900.12 1198.55 900.30 C1216.98 900.48 1226.21 899.20 1244.65 899.20 C1263.09 899.20 1272.61 900.50 1290.75 900.30 C1309.49 898.08 1318.41 888.30 1336.85 888.30 C1355.29 888.30 1365.24 900.50 1382.95 900.30 C1402.12 897.99 1410.61 877.20 1429.05 877.20 C1447.49 877.20 1455.98 897.99 1475.15 900.30 C1492.86 900.50 1502.81 893.10 1521.25 888.30 L1521.25 900.50 L1106.35 900.50 Z" fill="#8c8c78" fill-opacity="0.09"/>
<path d="M1106.35 900.30 C1124.79 899.50 1134.01 898.30 1152.45 898.30 C1170.89 898.30 1180.10 900.12 1198.55 900.30 C1216.98 900.48 1226.21 899.20 1244.65 899.20 C1263.09 899.20 1272.61 900.50 1290.75 900.30 C1309.49 898.08 1318.41 888.30 1336.85 888.30 C1355.29 888.30 1365.24 900.50 1382.95 900.30 C1402.12 897.99 1410.61 877.20 1429.05 877.20 C1447.49 877.20 1455.98 897.99 1475.15 900.30 C1492.86 900.50 1502.81 893.10 1521.25 888.30" fill="none" stroke="#979797" stroke-width="3" stroke-linecap="butt" stroke-linejoin="round"/>
<circle cx="1106.35" cy="900.30" r="3.15" fill="#e6e6e2" stroke="#979797" stroke-width="2.9"/>
<circle cx="1152.45" cy="898.30" r="3.15" fill="#e6e6e2" stroke="#979797" stroke-width="2.9"/>
<circle cx="1198.55" cy="900.30" r="3.15" fill="#e6e6e2" stroke="#979797" stroke-width="2.9"/>
<circle cx="1244.65" cy="899.20" r="3.15" fill="#e6e6e2" stroke="#979797" stroke-width="2.9"/>
<circle cx="1290.75" cy="900.30" r="3.15" fill="#e6e6e2" stroke="#979797" stroke-width="2.9"/>
<circle cx="1336.85" cy="888.30" r="3.15" fill="#e6e6e2" stroke="#979797" stroke-width="2.9"/>
<circle cx="1382.95" cy="900.30" r="3.15" fill="#e6e6e2" stroke="#979797" stroke-width="2.9"/>
<circle cx="1429.05" cy="877.20" r="3.15" fill="#e6e6e2" stroke="#979797" stroke-width="2.9"/>
<circle cx="1475.15" cy="900.30" r="3.15" fill="#e6e6e2" stroke="#979797" stroke-width="2.9"/>
<circle cx="1521.25" cy="888.30" r="3.15" fill="#e6e6e2" stroke="#979797" stroke-width="2.9"/>
<text x="645.35" y="913.90" text-anchor="end" transform="rotate(-26.20 645.35 909.70)">2021-12-29</text>
<text x="691.45" y="913.90" text-anchor="end" transform="rotate(-26.20 691.45 909.70)">2021-12-30</text>
<text x="737.55" y="913.90" text-anchor="end" transform="rotate(-26.20 737.55 909.70)">2021-12-31</text>
<text x="783.65" y="913.90" text-anchor="end" transform="rotate(-26.20 783.65 909.70)">2022-01-01</text>
<text x="829.75" y="913.90" text-anchor="end" transform="rotate(-26.20 829.75 909.70)">2022-01-02</text>
<text x="875.85" y="913.90" text-anchor="end" transform="rotate(-26.20 875.85 909.70)">2022-01-03</text>
<text x="921.95" y="913.90" text-anchor="end" transform="rotate(-26.20 921.95 909.70)">2022-01-04</text>
<text x="968.05" y="913.90" text-anchor="end" transform="rotate(-26.20 968.05 909.70)">2022-01-05</text>
<text x="1014.15" y="913.90" text-anchor="end" transform="rotate(-26.20 1014.15 909.70)">2022-01-06</text>
<text x="1060.25" y="913.90" text-anchor="end" transform="rotate(-26.20 1060.25 909.70)">2022-01-07</text>
<text x="1106.35" y="913.90" text-anchor="end" transform="rotate(-26.20 1106.35 909.70)">2022-01-08</text>
<text x="1152.45" y="913.90" text-anchor="end" transform="rotate(-26.20 1152.45 909.70)">2022-01-09</text>
<text x="1198.55" y="913.90" text-anchor="end" transform="rotate(-26.20 1198.55 909.70)">2022-01-10</text>
<text x="1244.65" y="913.90" text-anchor="end" transform="rotate(-26.20 1244.65 909.70)">2022-01-11</text>
<text x="1290.75" y="913.90" text-anchor="end" transform="rotate(-26.20 1290.75 909.70)">2022-01-12</text>
<text x="1336.85" y="913.90" text-anchor="end" transform="rotate(-26.20 1336.85 909.70)">2022-01-13</text>
<text x="1382.95" y="913.90" text-anchor="end" transform="rotate(-26.20 1382.95 909.70)">2022-01-14</text>
<text x="1429.05" y="913.90" text-anchor="end" transform="rotate(-26.20 1429.05 909.70)">2022-01-15</text>
<text x="1475.15" y="913.90" text-anchor="end" transform="rotate(-26.20 1475.15 909.70)">2022-01-16</text>
<text x="1521.25" y="913.90" text-anchor="end" transform="rotate(-26.20 1521.25 909.70)">2022-01-17</text>
</svg>
</div>
</section>
</main>
</body>
</html>
